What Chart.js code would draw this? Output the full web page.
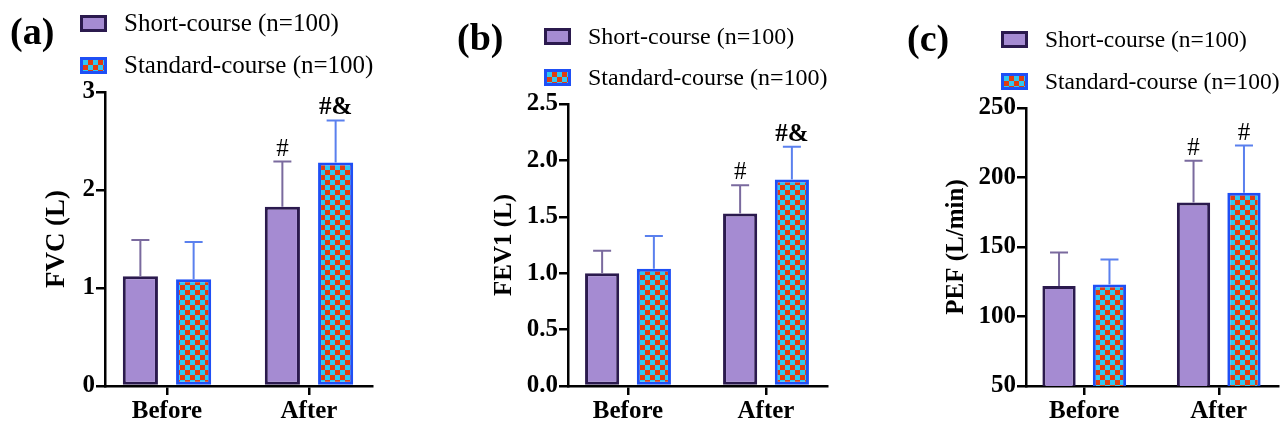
<!DOCTYPE html>
<html>
<head>
<meta charset="utf-8">
<script src="https://cdn.jsdelivr.net/npm/chart.js@4/dist/chart.umd.min.js"></script>
<style>
body { margin: 0; background: #fff; width: 1281px; height: 430px; overflow: hidden; position: relative; font-family: "Liberation Serif", "Times New Roman", serif; }
canvas { position: absolute; top: 0; }
.tag { position: absolute; font-weight: bold; font-size: 38px; line-height: 1; }
.leg { position: absolute; display: flex; align-items: center; font-size: 25px; height: 30px; white-space: nowrap; }
.sw { width: 21px; height: 11px; margin-right: 17px; }
.sw.short { background: #a58bd2; border: 3px solid #2b1a4e; }
.sw.std { border: 3px solid #1f4ff5; background: repeating-conic-gradient(#e03c10 0 25%, #30c8f0 0 50%) 0 0 / 10px 10px; }
</style>
</head>
<body>

<canvas id="fvc" width="400" height="430" style="left:0px"></canvas>
<canvas id="fev1" width="410" height="430" style="left:430px"></canvas>
<canvas id="pef" width="421" height="430" style="left:860px"></canvas>

<div class="tag" style="left:10px;top:12px">(a)</div>
<div class="tag" style="left:457px;top:18px">(b)</div>
<div class="tag" style="left:907px;top:19px">(c)</div>

<div class="leg" style="left:80px;top:8px"><span class="sw short"></span><span class="lbl0"></span></div>
<div class="leg" style="left:80px;top:50px"><span class="sw std"></span><span class="lbl1"></span></div>
<div class="leg" style="left:544px;top:21px;font-size:24px"><span class="sw short"></span><span class="lbl0"></span></div>
<div class="leg" style="left:544px;top:62px;font-size:24px"><span class="sw std"></span><span class="lbl1"></span></div>
<div class="leg" style="left:1001px;top:24px;font-size:23.5px"><span class="sw short"></span><span class="lbl0"></span></div>
<div class="leg" style="left:1001px;top:66px;font-size:23.5px"><span class="sw std"></span><span class="lbl1"></span></div>

<script>
// categories and series
const categories = ['Before', 'After'];
const seriesNames = ['Short-course (n=100)', 'Standard-course (n=100)'];

// FVC (L)
const fvcShort = [1.12, 1.83];
const fvcShortErr = [0.37, 0.46];
const fvcStd = [1.09, 2.28];
const fvcStdErr = [0.38, 0.43];
const fvcShortMarks = ['', '#'];
const fvcStdMarks = ['', '#&'];
const fvcTicks = [0, 1, 2, 3];

// FEV1 (L)
const fev1Short = [1.00, 1.53];
const fev1ShortErr = [0.20, 0.25];
const fev1Std = [1.04, 1.83];
const fev1StdErr = [0.29, 0.29];
const fev1ShortMarks = ['', '#'];
const fev1StdMarks = ['', '#&'];
const fev1Ticks = [0, 0.5, 1.0, 1.5, 2.0, 2.5];

// PEF (L/min)
const pefShort = [122, 182];
const pefShortErr = [24, 30];
const pefStd = [123, 189];
const pefStdErr = [18, 34];
const pefShortMarks = ['', '#'];
const pefStdMarks = ['', '#'];
const pefTicks = [50, 100, 150, 200, 250];

const FONT = '"Liberation Serif", "Times New Roman", serif';

document.querySelectorAll('.lbl0').forEach(function(el) { el.textContent = seriesNames[0]; });
document.querySelectorAll('.lbl1').forEach(function(el) { el.textContent = seriesNames[1]; });

// checkered fill for the standard-course bars
function checker() {
    const c = document.createElement('canvas');
    c.width = 10; c.height = 10;
    const g = c.getContext('2d');
    g.fillStyle = '#e03c10';
    g.fillRect(0, 0, 10, 10);
    g.fillStyle = '#30c8f0';
    g.fillRect(0, 0, 5, 5);
    g.fillRect(5, 5, 5, 5);
    return g.createPattern(c, 'repeat');
}

// upper error bar + significance mark
const errorBars = {
    id: 'errorBars',
    afterDatasetsDraw(chart) {
        const ctx = chart.ctx;
        const y = chart.scales.y;
        chart.data.datasets.forEach(function(ds, i) {
            const meta = chart.getDatasetMeta(i);
            meta.data.forEach(function(bar, j) {
                const top = y.getPixelForValue(ds.data[j] + ds.errors[j]);
                ctx.save();
                ctx.strokeStyle = ds.errorColor;
                ctx.lineWidth = 2;
                ctx.beginPath();
                ctx.moveTo(bar.x, bar.y);
                ctx.lineTo(bar.x, top);
                ctx.moveTo(bar.x - 9, top);
                ctx.lineTo(bar.x + 9, top);
                ctx.stroke();
                const mark = ds.marks[j];
                if (mark) {
                    ctx.fillStyle = '#000';
                    ctx.font = (mark.indexOf('&') >= 0 ? 'bold ' : '') + '25px ' + FONT;
                    ctx.textAlign = 'center';
                    ctx.textBaseline = 'alphabetic';
                    ctx.fillText(mark, bar.x, top - 6);
                }
                ctx.restore();
            });
        });
    }
};

// push the two groups a little further apart than even spacing
const spreadGroups = {
    id: 'spreadGroups',
    afterLayout(chart, args, opts) {
        const x = chart.scales.x;
        x._startPixel -= opts.left || 0;
        x._endPixel += opts.right || 0;
        x._length = x._endPixel - x._startPixel;
    }
};

function makePanel(id, p) {
    const ctx = document.getElementById(id).getContext('2d');
    return new Chart(ctx, {
        type: 'bar',
        data: {
            labels: categories,
            datasets: [{
                label: seriesNames[0],
                data: p.short,
                errors: p.shortErr,
                marks: p.shortMarks,
                errorColor: '#7a6a9e',
                backgroundColor: '#a58bd2',
                borderColor: '#2b1a4e',
                borderWidth: 3,
                borderSkipped: false
            }, {
                label: seriesNames[1],
                data: p.std,
                errors: p.stdErr,
                marks: p.stdMarks,
                errorColor: '#5a80ee',
                backgroundColor: checker(),
                borderColor: '#1f4ff5',
                borderWidth: 3,
                borderSkipped: false
            }]
        },
        options: {
            responsive: false,
            animation: false,
            devicePixelRatio: 1,
            layout: { padding: { left: 0, top: p.top, right: p.right, bottom: 0 } },
            datasets: { bar: { categoryPercentage: 0.75, barPercentage: 0.66 } },
            plugins: {
                legend: { display: false },
                tooltip: { enabled: false },
                spreadGroups: { left: 9, right: 8 }
            },
            scales: {
                x: {
                    afterFit: function(s) { s.height = 44; },
                    border: { color: '#000', width: 2.5 },
                    grid: { offset: false, drawOnChartArea: false, drawTicks: true, tickLength: 9, color: '#000', lineWidth: 2.5 },
                    ticks: { color: '#000', padding: 2, font: { family: FONT, size: 25, weight: 'bold' } }
                },
                y: {
                    min: p.ticks[0],
                    max: p.ticks[p.ticks.length - 1],
                    afterFit: function(s) { s.width = p.axisWidth; },
                    afterBuildTicks: function(s) { s.ticks = p.ticks.map(function(v) { return { value: v }; }); },
                    border: { color: '#000', width: 2.5 },
                    grid: { drawOnChartArea: false, drawTicks: true, tickLength: 9, color: '#000', lineWidth: 2.5 },
                    ticks: {
                        color: '#000',
                        padding: 1,
                        font: { family: FONT, size: 25, weight: 'bold' },
                        callback: function(v) { return p.decimals ? Number(v).toFixed(p.decimals) : v; }
                    },
                    title: {
                        display: true,
                        text: p.title,
                        color: '#000',
                        padding: { top: p.titleGap, bottom: 0 },
                        font: { family: FONT, size: p.titleSize, weight: 'bold' }
                    }
                }
            }
        },
        plugins: [errorBars, spreadGroups]
    });
}

makePanel('fvc', {
    short: fvcShort, shortErr: fvcShortErr, shortMarks: fvcShortMarks,
    std: fvcStd, stdErr: fvcStdErr, stdMarks: fvcStdMarks,
    ticks: fvcTicks, decimals: 0, title: 'FVC (L)', titleSize: 27,
    top: 92, right: 28, axisWidth: 105, titleGap: 41
});

makePanel('fev1', {
    short: fev1Short, shortErr: fev1ShortErr, shortMarks: fev1ShortMarks,
    std: fev1Std, stdErr: fev1StdErr, stdMarks: fev1StdMarks,
    ticks: fev1Ticks, decimals: 1, title: 'FEV1 (L)', titleSize: 25,
    top: 104, right: 13, axisWidth: 138, titleGap: 60
});

makePanel('pef', {
    short: pefShort, shortErr: pefShortErr, shortMarks: pefShortMarks,
    std: pefStd, stdErr: pefStdErr, stdMarks: pefStdMarks,
    ticks: pefTicks, decimals: 0, title: 'PEF (L/min)', titleSize: 25,
    top: 108, right: 3, axisWidth: 166, titleGap: 82
});
</script>
</body>
</html>
